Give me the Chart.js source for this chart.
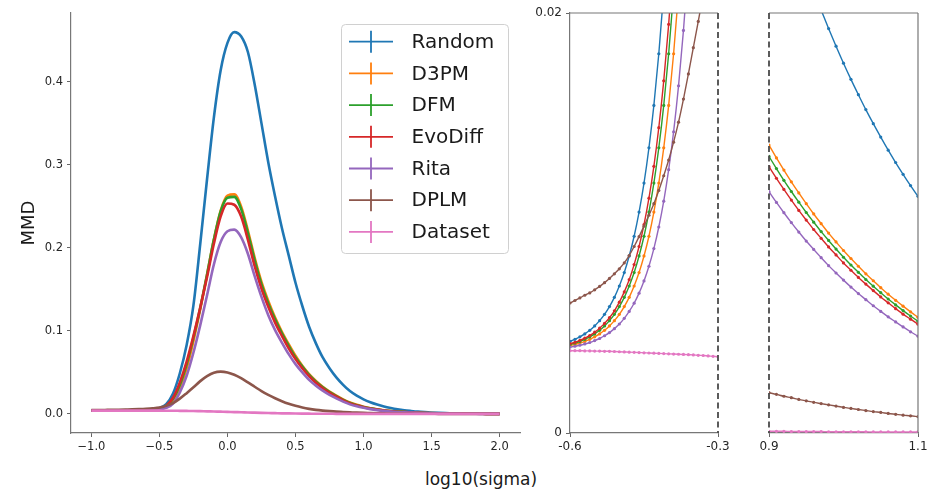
<!DOCTYPE html>
<html>
<head>
<meta charset="utf-8">
<title>MMD vs log10(sigma)</title>
<script src="https://cdn.jsdelivr.net/npm/chart.js@4.4.1/dist/chart.umd.min.js"></script>
<style>
  body { margin: 0; background: #fff; }
  #figure { position: relative; width: 936px; height: 492px; font-family: 'DejaVu Sans', sans-serif; }
  #figure canvas { position: absolute; top: 0; }
  #xTitle { position: absolute; left: 381px; width: 200px; top: 469px; text-align: center; font-size: 17px; line-height: 20px; color: #1a1a1a; }
</style>
</head>
<body>
<div id="figure">
  <canvas id="mainChart" width="530" height="460" style="left:0"></canvas>
  <canvas id="lowChart" width="210" height="460" style="left:530px"></canvas>
  <canvas id="highChart" width="196" height="460" style="left:740px"></canvas>
  <div id="xTitle">log10(sigma)</div>
</div>
<script>
var seriesNames = ['Random', 'D3PM', 'DFM', 'EvoDiff', 'Rita', 'DPLM', 'Dataset'];
var seriesColors = ['#1f77b4', '#ff7f0e', '#2ca02c', '#d62728', '#9467bd', '#8c564b', '#e377c2'];

// full range, log10(sigma) from -1 to 2
var sigmaMain = [-1.0, -0.95, -0.9, -0.85, -0.8, -0.75, -0.7, -0.65, -0.6, -0.55,
  -0.5, -0.45, -0.4, -0.35, -0.3, -0.25, -0.2, -0.15, -0.1, -0.05,
  0.0, 0.05, 0.1, 0.15, 0.2, 0.25, 0.3, 0.35, 0.4, 0.45,
  0.5, 0.55, 0.6, 0.65, 0.7, 0.75, 0.8, 0.85, 0.9, 0.95,
  1.0, 1.05, 1.1, 1.15, 1.2, 1.25, 1.3, 1.35, 1.4, 1.45,
  1.5, 1.55, 1.6, 1.65, 1.7, 1.75, 1.8, 1.85, 1.9, 1.95,
  2.0];
var randomMain = [0.0040, 0.0040, 0.0040, 0.0041, 0.0041, 0.0041, 0.0042, 0.0042, 0.0044, 0.0051,
  0.0070, 0.0119, 0.0246, 0.049, 0.083, 0.131, 0.205, 0.283, 0.357, 0.414,
  0.447, 0.460, 0.455, 0.436, 0.397, 0.350, 0.303, 0.262, 0.224, 0.191,
  0.158, 0.130, 0.105, 0.085, 0.068, 0.055, 0.044, 0.035, 0.0275, 0.0220,
  0.0176, 0.0141, 0.0113, 0.0090, 0.0072, 0.0057, 0.0045, 0.0036, 0.0028, 0.0022,
  0.0017, 0.0013, 0.0010, 0.0008, 0.0006, 0.0005, 0.0004, 0.0003, 0.0002, 0.0002,
  0.0001];
var d3pmMain = [0.0040, 0.0040, 0.0040, 0.0040, 0.0040, 0.0040, 0.0041, 0.0041, 0.0042, 0.0046,
  0.0057, 0.0084, 0.0156, 0.031, 0.055, 0.088, 0.126, 0.168, 0.210, 0.245,
  0.263, 0.2645, 0.250, 0.221, 0.188, 0.159, 0.136, 0.116, 0.099, 0.084,
  0.070, 0.058, 0.048, 0.0398, 0.0328, 0.0270, 0.0221, 0.0176, 0.0137, 0.0109,
  0.0087, 0.0069, 0.0055, 0.0044, 0.0035, 0.0028, 0.0022, 0.0018, 0.0014, 0.0011,
  0.0009, 0.0007, 0.0005, 0.0004, 0.0003, 0.0003, 0.0002, 0.0002, 0.0001, 0.0001,
  0.0001];
var dfmMain = [0.0040, 0.0040, 0.0040, 0.0040, 0.0041, 0.0041, 0.0041, 0.0042, 0.0042, 0.0047,
  0.0060, 0.0094, 0.0181, 0.035, 0.060, 0.092, 0.128, 0.168, 0.210, 0.244,
  0.2605, 0.2615, 0.247, 0.218, 0.185, 0.156, 0.133, 0.114, 0.097, 0.082,
  0.068, 0.057, 0.047, 0.0388, 0.0320, 0.0263, 0.0214, 0.0170, 0.0132, 0.0105,
  0.0084, 0.0067, 0.0053, 0.0042, 0.0034, 0.0027, 0.0021, 0.0017, 0.0013, 0.0010,
  0.0008, 0.0006, 0.0005, 0.0004, 0.0003, 0.0003, 0.0002, 0.0002, 0.0001, 0.0001,
  0.0001];
var evodiffMain = [0.0040, 0.0040, 0.0040, 0.0040, 0.0041, 0.0041, 0.0041, 0.0042, 0.0042, 0.0048,
  0.0062, 0.0099, 0.0195, 0.038, 0.063, 0.094, 0.128, 0.165, 0.205, 0.238,
  0.2535, 0.252, 0.238, 0.210, 0.178, 0.151, 0.129, 0.110, 0.094, 0.079,
  0.066, 0.055, 0.0455, 0.0375, 0.031, 0.0255, 0.0208, 0.0164, 0.0127, 0.0101,
  0.0081, 0.0065, 0.0052, 0.0041, 0.0033, 0.0026, 0.0021, 0.0017, 0.0013, 0.0010,
  0.0008, 0.0006, 0.0005, 0.0004, 0.0003, 0.0003, 0.0002, 0.0002, 0.0001, 0.0001,
  0.0001];
var ritaMain = [0.0040, 0.0040, 0.0040, 0.0040, 0.0040, 0.0040, 0.0040, 0.0040, 0.0041, 0.0044,
  0.0052, 0.0072, 0.0125, 0.026, 0.046, 0.074, 0.107, 0.143, 0.180, 0.207,
  0.220, 0.222, 0.213, 0.193, 0.166, 0.141, 0.119, 0.101, 0.086, 0.072,
  0.060, 0.050, 0.041, 0.034, 0.0280, 0.0230, 0.0187, 0.0148, 0.0115, 0.0091,
  0.0073, 0.0058, 0.0046, 0.0037, 0.0029, 0.0023, 0.0018, 0.0015, 0.0012, 0.0009,
  0.0007, 0.0006, 0.0004, 0.0003, 0.0003, 0.0002, 0.0002, 0.0001, 0.0001, 0.0001,
  0.0001];
var dplmMain = [0.0046, 0.0047, 0.0048, 0.0049, 0.0051, 0.0053, 0.0055, 0.0058, 0.0062, 0.0068,
  0.0078, 0.0099, 0.0130, 0.0184, 0.0250, 0.0320, 0.0395, 0.0455, 0.0497, 0.0510,
  0.0500, 0.0472, 0.0430, 0.0380, 0.0327, 0.0275, 0.0230, 0.0189, 0.0153, 0.0122,
  0.0097, 0.0077, 0.0061, 0.0049, 0.0040, 0.0033, 0.0027, 0.0023, 0.0019, 0.0015,
  0.0012, 0.0010, 0.0008, 0.0006, 0.0005, 0.0004, 0.0003, 0.0003, 0.0002, 0.0002,
  0.0002, 0.0001, 0.0001, 0.0001, 0.0001, 0.0001, 0.0001, 0.0001, 0.0001, 0.0001,
  0.0001];
var datasetMain = [0.0040, 0.0040, 0.0040, 0.0040, 0.0040, 0.0040, 0.0039, 0.0039, 0.0039, 0.0039,
  0.0039, 0.0038, 0.0038, 0.0037, 0.0036, 0.0035, 0.0033, 0.0031, 0.0029, 0.0027,
  0.0025, 0.0022, 0.0020, 0.0017, 0.0015, 0.0013, 0.0011, 0.0009, 0.0007, 0.0006,
  0.0005, 0.0004, 0.0003, 0.0002, 0.0002, 0.0002, 0.0001, 0.0001, 0.0001, 0.0001,
  0.0001, 0.0001, 0.0001, 0.0000, 0.0000, 0.0000, 0.0000, 0.0000, 0.0000, 0.0000,
  0.0000, 0.0000, 0.0000, 0.0000, 0.0000, 0.0000, 0.0000, 0.0000, 0.0000, 0.0000,
  0.0000];

// close-up on the rise, -0.6 .. -0.3
var sigmaLow = [-0.60, -0.59, -0.58, -0.57, -0.56, -0.55, -0.54, -0.53, -0.52, -0.51,
  -0.50, -0.49, -0.48, -0.47, -0.46, -0.45, -0.44, -0.43, -0.42, -0.41,
  -0.40, -0.39, -0.38, -0.37, -0.36, -0.35, -0.34, -0.33, -0.32, -0.31,
  -0.30];
var randomLow = [0.00436, 0.00446, 0.00458, 0.00472, 0.00489, 0.0051, 0.00535, 0.00565, 0.00602, 0.00646,
  0.0070, 0.00764, 0.00843, 0.00937, 0.01052, 0.0119, 0.01358, 0.0156, 0.01806, 0.02101,
  0.0246, 0.0288, 0.0333, 0.0383, 0.0435, 0.049, 0.0552, 0.0617, 0.0687, 0.0758,
  0.083];
var d3pmLow = [0.00416, 0.00422, 0.00428, 0.00436, 0.00446, 0.00458, 0.00472, 0.00489, 0.0051, 0.00535,
  0.00565, 0.00602, 0.00646, 0.0070, 0.00764, 0.00843, 0.00937, 0.01052, 0.0119, 0.01358,
  0.0156, 0.01806, 0.02101, 0.0240, 0.0272, 0.0308, 0.0347, 0.0390, 0.0437, 0.0490,
  0.055];
var dfmLow = [0.00422, 0.00428, 0.00436, 0.00446, 0.00458, 0.00472, 0.00489, 0.0051, 0.00535, 0.00565,
  0.00602, 0.00646, 0.0070, 0.00764, 0.00843, 0.00937, 0.01052, 0.0119, 0.01358, 0.0156,
  0.01806, 0.02101, 0.0243, 0.0277, 0.0313, 0.035, 0.0395, 0.0443, 0.0492, 0.0545,
  0.060];
var evodiffLow = [0.00425, 0.00432, 0.00441, 0.00452, 0.00464, 0.0048, 0.00499, 0.00522, 0.00549, 0.00582,
  0.00623, 0.00672, 0.0073, 0.00802, 0.00888, 0.00992, 0.01118, 0.0127, 0.01454, 0.01677,
  0.01946, 0.02272, 0.0262, 0.0300, 0.0340, 0.038, 0.0428, 0.0478, 0.0530, 0.0582,
  0.063];
var ritaLow = [0.00409, 0.00413, 0.00418, 0.00424, 0.00431, 0.0044, 0.0045, 0.00463, 0.00478, 0.00497,
  0.00519, 0.00546, 0.00579, 0.00618, 0.00666, 0.00724, 0.00794, 0.00878, 0.00981, 0.01104,
  0.01254, 0.01434, 0.01653, 0.01917, 0.02237, 0.026, 0.0298, 0.0338, 0.0380, 0.0420,
  0.046];
var dplmLow = [0.00619, 0.00631, 0.00643, 0.00656, 0.00667, 0.00682, 0.00698, 0.00716, 0.00736, 0.00758,
  0.00782, 0.0081, 0.00845, 0.00888, 0.00935, 0.00985, 0.01037, 0.01092, 0.01155, 0.01225,
  0.013, 0.01385, 0.0148, 0.0159, 0.0171, 0.01835, 0.0196, 0.0209, 0.0222, 0.0236,
  0.025];
var datasetLow = [0.00392, 0.00392, 0.00392, 0.00391, 0.00391, 0.0039, 0.0039, 0.00389, 0.00389, 0.00388,
  0.00387, 0.00386, 0.00385, 0.00384, 0.00383, 0.00382, 0.00381, 0.0038, 0.00379, 0.00378,
  0.00377, 0.00376, 0.00375, 0.00374, 0.00373, 0.00372, 0.0037, 0.00369, 0.00367, 0.00365,
  0.00363];

// close-up on the tail, 0.9 .. 1.1
var sigmaHigh = [0.90, 0.91, 0.92, 0.93, 0.94, 0.95, 0.96, 0.97, 0.98, 0.99,
  1.00, 1.01, 1.02, 1.03, 1.04, 1.05, 1.06, 1.07, 1.08, 1.09, 1.10];
var randomHigh = [0.02753, 0.02633, 0.02518, 0.02408, 0.02303, 0.02202, 0.02106, 0.02014, 0.01926, 0.01842,
  0.01761, 0.01684, 0.01611, 0.0154, 0.01473, 0.01409, 0.01347, 0.01288, 0.01232, 0.01178, 0.01127];
var d3pmHigh = [0.01371, 0.0131, 0.01252, 0.01196, 0.01143, 0.01092, 0.01043, 0.00997, 0.00952, 0.0091,
  0.00869, 0.00831, 0.00794, 0.00758, 0.00725, 0.00692, 0.00661, 0.00632, 0.00604, 0.00577, 0.00551];
var dfmHigh = [0.01317, 0.01259, 0.01203, 0.0115, 0.01099, 0.0105, 0.01004, 0.00959, 0.00917, 0.00876,
  0.00837, 0.008, 0.00765, 0.00731, 0.00699, 0.00668, 0.00638, 0.0061, 0.00583, 0.00557, 0.00532];
var evodiffHigh = [0.01268, 0.01213, 0.0116, 0.01109, 0.0106, 0.01014, 0.00969, 0.00927, 0.00886, 0.00848,
  0.0081, 0.00775, 0.00741, 0.00709, 0.00678, 0.00648, 0.0062, 0.00592, 0.00566, 0.00542, 0.00518];
var ritaHigh = [0.01149, 0.01098, 0.01049, 0.01002, 0.00957, 0.00914, 0.00874, 0.00835, 0.00797, 0.00762,
  0.00728, 0.00695, 0.00664, 0.00635, 0.00606, 0.00579, 0.00553, 0.00529, 0.00505, 0.00482, 0.00461];
var dplmHigh = [0.00192, 0.00184, 0.00175, 0.00168, 0.0016, 0.00153, 0.00146, 0.0014, 0.00134, 0.00128,
  0.00122, 0.00117, 0.00112, 0.00107, 0.00102, 0.00098, 0.00093, 0.00089, 0.00085, 0.00082, 0.00078];
var datasetHigh = [0.00008, 0.00008, 0.00008, 0.00007, 0.00007, 0.00007, 0.00007, 0.00007, 0.00006, 0.00006,
  0.00006, 0.00006, 0.00006, 0.00006, 0.00005, 0.00005, 0.00005, 0.00005, 0.00005, 0.00005, 0.00005];

var mainXTicks = [-1.0, -0.5, 0.0, 0.5, 1.0, 1.5, 2.0];
var mainYTicks = [0.0, 0.1, 0.2, 0.3, 0.4];
var lowXTicks = [-0.6, -0.3];
var highXTicks = [0.9, 1.1];
var zoomYTicks = [0, 0.02];

var FONT = "'DejaVu Sans', sans-serif";
Chart.defaults.font.family = FONT;
Chart.defaults.color = '#262626';

function buildDatasets(xs, columns, lineWidth, dotRadius) {
    return columns.map((ys, i) => ({
        label: seriesNames[i],
        data: xs.map((x, j) => ({ x: x, y: ys[j] })),
        borderColor: seriesColors[i],
        backgroundColor: seriesColors[i],
        borderWidth: lineWidth,
        pointRadius: dotRadius,
        pointBorderWidth: 0,
        pointHoverRadius: 0,
        cubicInterpolationMode: 'monotone',
        order: columns.length - i,
        clip: 0
    }));
}

function fixedTicks(values) {
    return axis => { axis.ticks = values.map(v => ({ value: v })); };
}

function tickGrid(show) {
    return { drawOnChartArea: false, drawTicks: show, tickLength: 4, tickColor: '#666', tickWidth: 1 };
}

// extra edges of the close-up boxes (the dashed ones mark where the panels join)
const frameLines = {
    id: 'frameLines',
    afterDraw(chart, args, opts) {
        if (!opts.sides) return;
        const ctx = chart.ctx;
        const a = chart.chartArea;
        ctx.save();
        opts.sides.forEach(s => {
            ctx.strokeStyle = s.dash ? '#4a4a4a' : '#777';
            ctx.lineWidth = s.dash ? 1.8 : 1.2;
            ctx.setLineDash(s.dash ? [6, 3.5] : []);
            ctx.beginPath();
            if (s.side === 'top') { ctx.moveTo(a.left, a.top); ctx.lineTo(a.right, a.top); }
            if (s.side === 'right') { ctx.moveTo(a.right, a.top); ctx.lineTo(a.right, a.bottom); }
            if (s.side === 'left') { ctx.moveTo(a.left, a.top); ctx.lineTo(a.left, a.bottom); }
            ctx.stroke();
        });
        ctx.restore();
    }
};

// legend with errorbar-style handles
const crossLegend = {
    id: 'crossLegend',
    afterDraw(chart, args, o) {
        if (!o.show) return;
        const ctx = chart.ctx;
        ctx.save();
        ctx.beginPath();
        ctx.roundRect(o.left + 0.5, o.top + 0.5, o.width, o.height, 4);
        ctx.fillStyle = 'rgba(255,255,255,0.85)';
        ctx.fill();
        ctx.strokeStyle = '#d0d0d0';
        ctx.lineWidth = 1;
        ctx.stroke();
        ctx.font = o.fontSize + 'px ' + FONT;
        ctx.textBaseline = 'middle';
        chart.data.datasets.forEach((ds, i) => {
            const y = o.top + o.firstRow + i * o.rowGap;
            const x0 = o.left + o.handleLeft;
            const xc = x0 + o.handleWidth / 2;
            ctx.strokeStyle = ds.borderColor;
            ctx.lineWidth = 1.8;
            ctx.beginPath();
            ctx.moveTo(x0, y);
            ctx.lineTo(x0 + o.handleWidth, y);
            ctx.moveTo(xc, y - o.capHalf);
            ctx.lineTo(xc, y + o.capHalf);
            ctx.stroke();
            ctx.fillStyle = '#1a1a1a';
            ctx.fillText(ds.label, o.left + o.textLeft, y + 1);
        });
        ctx.restore();
    }
};

const commonOptions = {
    responsive: false,
    animation: false,
    events: []
};

new Chart(document.getElementById('mainChart'), {
    type: 'line',
    data: {
        datasets: buildDatasets(sigmaMain,
            [randomMain, d3pmMain, dfmMain, evodiffMain, ritaMain, dplmMain, datasetMain], 2.6, 0)
    },
    plugins: [crossLegend],
    options: Object.assign({}, commonOptions, {
        layout: { padding: { top: 13, right: 10, left: 0, bottom: 0 } },
        scales: {
            x: {
                type: 'linear', min: -1.15, max: 2.15,
                afterBuildTicks: fixedTicks(mainXTicks),
                afterFit: a => { a.height = 27; },
                ticks: { callback: v => v.toFixed(1).replace('-', '\u2212'), autoSkip: false, maxRotation: 0, font: { size: 11.5 }, padding: 3 },
                grid: tickGrid(true),
                border: { color: '#777', width: 1.2 }
            },
            y: {
                type: 'linear', min: -0.023, max: 0.483,
                afterBuildTicks: fixedTicks(mainYTicks),
                afterFit: a => { a.width = 71; },
                ticks: { callback: v => v.toFixed(1), autoSkip: false, font: { size: 11.5 }, padding: 4 },
                grid: tickGrid(true),
                border: { color: '#777', width: 1.2 },
                title: { display: true, text: 'MMD', font: { size: 18 }, color: '#1a1a1a', padding: { top: 19, bottom: 0 } }
            }
        },
        plugins: {
            legend: { display: false },
            tooltip: { enabled: false },
            crossLegend: {
                show: true, left: 341, top: 24, width: 167, height: 229,
                firstRow: 17.7, rowGap: 31.7, handleLeft: 8, handleWidth: 44, capHalf: 11,
                textLeft: 70.5, fontSize: 20
            }
        }
    })
});

new Chart(document.getElementById('lowChart'), {
    type: 'line',
    data: {
        datasets: buildDatasets(sigmaLow,
            [randomLow, d3pmLow, dfmLow, evodiffLow, ritaLow, dplmLow, datasetLow], 1.4, 1.6)
    },
    plugins: [frameLines],
    options: Object.assign({}, commonOptions, {
        layout: { padding: { top: 13, right: 22, left: 0, bottom: 0 } },
        scales: {
            x: {
                type: 'linear', min: -0.6, max: -0.3,
                afterBuildTicks: fixedTicks(lowXTicks),
                afterFit: a => { a.height = 27; },
                ticks: { callback: v => String(v), autoSkip: false, maxRotation: 0, font: { size: 12 }, padding: 3 },
                grid: tickGrid(true),
                border: { color: '#777', width: 1.2 }
            },
            y: {
                type: 'linear', min: 0, max: 0.02,
                afterBuildTicks: fixedTicks(zoomYTicks),
                afterFit: a => { a.width = 40; },
                ticks: { callback: v => String(v), autoSkip: false, font: { size: 12 }, padding: 4 },
                grid: tickGrid(true),
                border: { color: '#777', width: 1.2 }
            }
        },
        plugins: {
            legend: { display: false },
            tooltip: { enabled: false },
            frameLines: { sides: [{ side: 'top' }, { side: 'right', dash: true }] }
        }
    })
});

new Chart(document.getElementById('highChart'), {
    type: 'line',
    data: {
        datasets: buildDatasets(sigmaHigh,
            [randomHigh, d3pmHigh, dfmHigh, evodiffHigh, ritaHigh, dplmHigh, datasetHigh], 1.4, 1.6)
    },
    plugins: [frameLines],
    options: Object.assign({}, commonOptions, {
        layout: { padding: { top: 13, right: 18, left: 0, bottom: 0 } },
        scales: {
            x: {
                type: 'linear', min: 0.9, max: 1.1,
                afterBuildTicks: fixedTicks(highXTicks),
                afterFit: a => { a.height = 27; },
                ticks: { callback: v => String(v), autoSkip: false, maxRotation: 0, font: { size: 12 }, padding: 3 },
                grid: tickGrid(true),
                border: { color: '#777', width: 1.2 }
            },
            y: {
                type: 'linear', min: 0, max: 0.02,
                afterBuildTicks: fixedTicks(zoomYTicks),
                afterFit: a => { a.width = 29; },
                ticks: { display: false },
                grid: tickGrid(false),
                border: { display: false }
            }
        },
        plugins: {
            legend: { display: false },
            tooltip: { enabled: false },
            frameLines: { sides: [{ side: 'top' }, { side: 'right' }, { side: 'left', dash: true }] }
        }
    })
});
</script>
</body>
</html>
